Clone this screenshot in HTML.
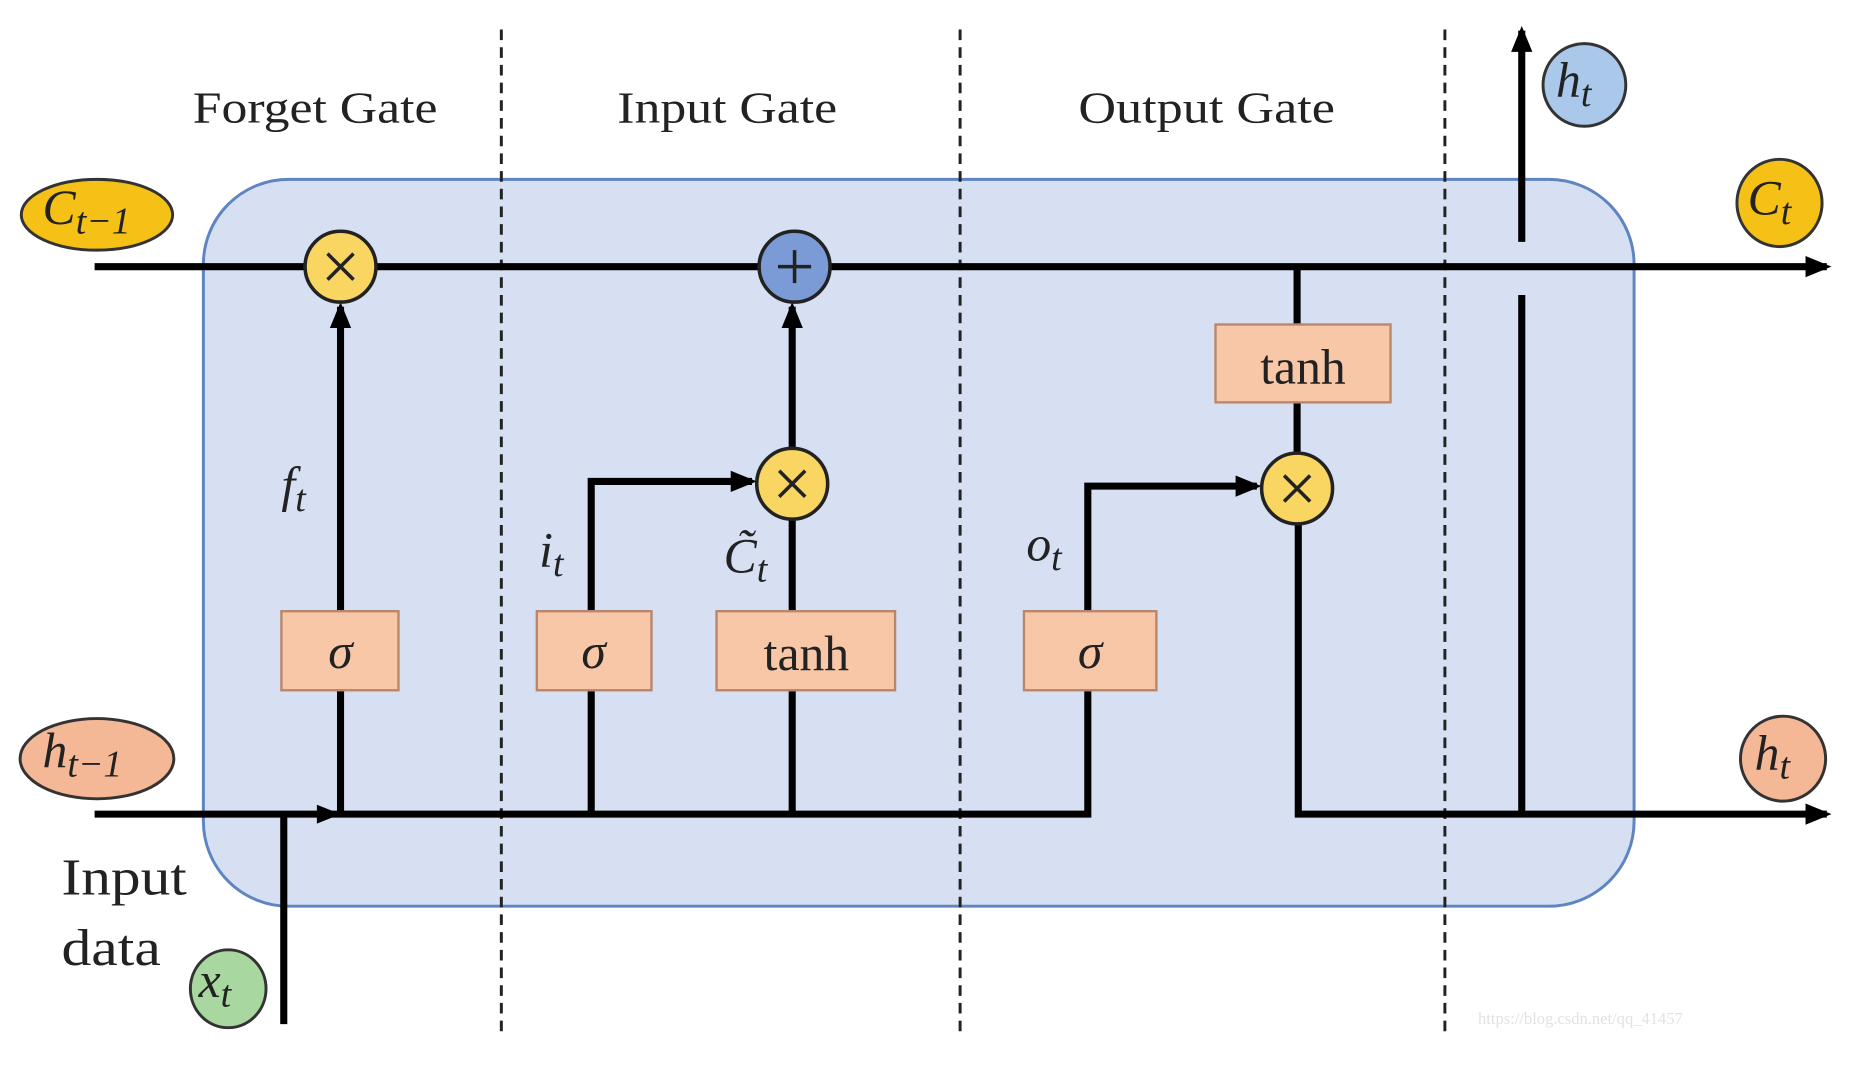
<!DOCTYPE html>
<html><head><meta charset="utf-8"><style>
html,body{margin:0;padding:0;background:#fff;}
svg{display:block;}
text{font-family:"Liberation Serif",serif;fill:#222;}
</style></head><body>
<svg width="1854" height="1069" viewBox="0 0 1568 906" preserveAspectRatio="none" xmlns="http://www.w3.org/2000/svg">
<defs>
<marker id="b" markerWidth="22" markerHeight="22" refX="18" refY="11" orient="auto" markerUnits="userSpaceOnUse" viewBox="0 0 22 22">
<path d="M0,2 L22,11 L0,20 z" fill="#000"/></marker>
</defs>
<rect x="172" y="152" width="1210" height="616" rx="72" fill="#d6e0f2" stroke="#5f84c2" stroke-width="2.5"/>
<g stroke="#222" stroke-width="2.5" stroke-dasharray="9,6">
<line x1="424" y1="25" x2="424" y2="880"/><line x1="812" y1="25" x2="812" y2="880"/><line x1="1222" y1="25" x2="1222" y2="880"/>
</g>
<text x="163" y="104" font-size="38" textLength="207" lengthAdjust="spacingAndGlyphs">Forget  Gate</text>
<text x="522" y="104" font-size="38" textLength="186" lengthAdjust="spacingAndGlyphs">Input Gate</text>
<text x="912" y="104" font-size="38" textLength="217" lengthAdjust="spacingAndGlyphs">Output Gate</text>
<g stroke="#000" stroke-width="6" fill="none">
<line x1="80" y1="226" x2="1545" y2="226" marker-end="url(#b)"/>
<polyline points="80,690 920,690 920,412 1063,412" marker-end="url(#b)"/>
<polyline points="1098,414 1098,690 1545,690" marker-end="url(#b)"/>
<line x1="240" y1="690" x2="240" y2="868"/>
<line x1="1287" y1="690" x2="1287" y2="250"/>
<line x1="1287" y1="205" x2="1287" y2="26" marker-end="url(#b)"/>
<line x1="288" y1="690" x2="288" y2="260" marker-end="url(#b)"/>
<polyline points="500,690 500,408 636,408" marker-end="url(#b)"/>
<line x1="670" y1="690" x2="670" y2="441"/>
<line x1="670" y1="379" x2="670" y2="260" marker-end="url(#b)"/>
<line x1="1097" y1="226" x2="1097" y2="383"/>
</g>
<path d="M268,682 L288,690 L268,698 z" fill="#000"/>
<g fill="#f8c7a8" stroke="#b9866c" stroke-width="2">
<rect x="238" y="518" width="99" height="67"/><rect x="454" y="518" width="97" height="67"/>
<rect x="606" y="518" width="151" height="67"/><rect x="866" y="518" width="112" height="67"/>
<rect x="1028" y="275" width="148" height="66"/>
</g>
<g font-size="42" text-anchor="middle">
<text x="288" y="566" font-style="italic">σ</text><text x="502" y="566" font-style="italic">σ</text>
<text x="682" y="568">tanh</text><text x="922" y="566" font-style="italic">σ</text><text x="1102" y="325">tanh</text>
</g>
<g stroke="#222" stroke-width="3">
<circle cx="288" cy="226" r="30" fill="#f8d661"/><circle cx="672" cy="226" r="30" fill="#7b9bd6"/>
<circle cx="670" cy="410" r="30" fill="#f8d661"/><circle cx="1097" cy="414" r="30" fill="#f8d661"/>
</g>
<g stroke="#222" stroke-width="3">
<path d="M277,215 L299,237 M299,215 L277,237"/><path d="M659,399 L681,421 M681,399 L659,421"/>
<path d="M1086,403 L1108,425 M1108,403 L1086,425"/><path d="M672,212 L672,240 M658,226 L686,226"/>
</g>
<g font-size="42" font-style="italic">
<text x="238" y="425">f<tspan font-size="32" dy="8">t</tspan></text>
<text x="456" y="480">i<tspan font-size="32" dy="8">t</tspan></text>
<text x="612" y="485">C̃<tspan font-size="32" dy="8">t</tspan></text>
<text x="868" y="475">o<tspan font-size="32" dy="8">t</tspan></text>
</g>
<g stroke="#333" stroke-width="2.5">
<ellipse cx="82" cy="182" rx="64" ry="30" fill="#f5c116"/>
<ellipse cx="82" cy="643" rx="65" ry="34" fill="#f5b896"/>
<ellipse cx="1505" cy="172" rx="36" ry="37" fill="#f5c116"/>
<ellipse cx="1508" cy="643" rx="36" ry="36" fill="#f5b896"/>
<ellipse cx="1340" cy="72" rx="35" ry="35" fill="#a9c8ea"/>
<ellipse cx="193" cy="838" rx="32" ry="33" fill="#a8d8a0"/>
</g>
<g font-size="42" font-style="italic">
<text x="36" y="190">C<tspan font-size="32" dy="8">t−1</tspan></text>
<text x="36" y="650">h<tspan font-size="32" dy="8">t−1</tspan></text>
<text x="1478" y="182">C<tspan font-size="32" dy="8">t</tspan></text>
<text x="1484" y="652">h<tspan font-size="32" dy="8">t</tspan></text>
<text x="1316" y="82">h<tspan font-size="32" dy="8">t</tspan></text>
<text x="168" y="845">x<tspan font-size="32" dy="8">t</tspan></text>
</g>
<text x="52" y="758" font-size="44" textLength="106" lengthAdjust="spacingAndGlyphs">Input</text>
<text x="52" y="818" font-size="44" textLength="84" lengthAdjust="spacingAndGlyphs">data</text>
<text x="1250" y="868" font-size="14" style="fill:#e2e2e2">https://blog.csdn.net/qq_41457</text>
</svg>
</body></html>
